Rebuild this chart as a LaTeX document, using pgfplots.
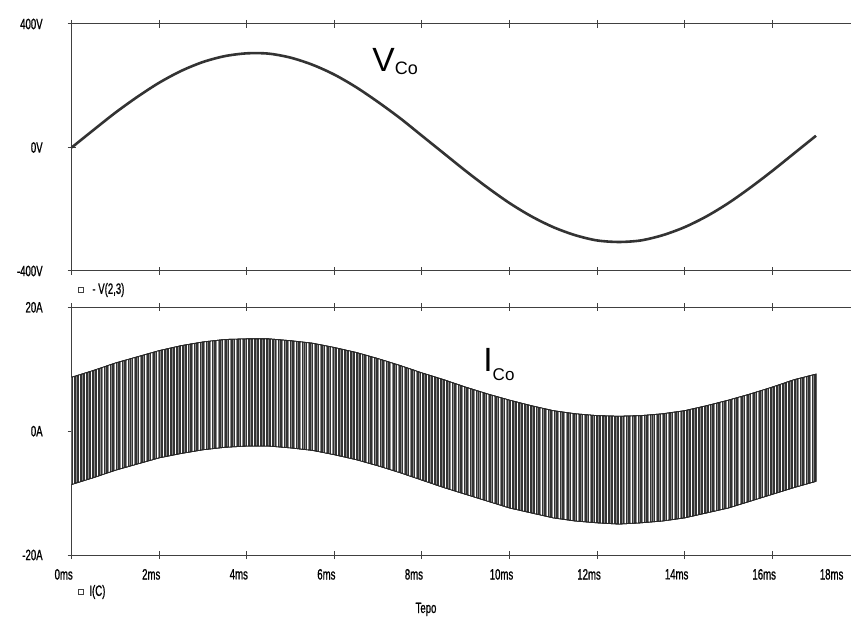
\documentclass[border=0pt]{standalone}
\usepackage{fontspec}
\setmainfont{Liberation Sans}
\newfontfamily\narrowsf[FakeStretch=0.64, FakeBold=0.9]{Liberation Sans}
\usepackage{pgfplots}
\pgfplotsset{compat=1.18}
\usepackage{pgfplotstable}
\usetikzlibrary{patterns, patterns.meta}

\tikzdeclarepattern{
    name=finevlines,
    type=uncolored,
    bounding box={(0pt,-0.5pt) and (1.45pt,1.5pt)},
    tile size={(1.45pt,1pt)},
    code={\draw[line width=0.45pt] (0.7pt,-0.5pt) -- (0.7pt,1.5pt);}
}

% capacitor voltage, V (time in ms)
\pgfplotstableread{
t    v
0    0
0.5  57
1.0  113
1.5  164
2.0  210
2.5  248
3.0  277
3.5  296
4.0  305
4.5  304
5.0  291
5.5  268
6.0  236
6.5  195
7.0  147
7.5  95
8.0  38
8.5  -19
9.0  -76
9.5  -130
10.0 -180
10.5 -223
11.0 -258
11.5 -284
12.0 -301
12.5 -306
13.0 -301
13.5 -284
14.0 -258
14.5 -223
15.0 -180
15.5 -130
16.0 -76
16.5 -19
17.0 38
}\vco

% capacitor current ripple band, A: upper envelope forward, lower envelope back
\pgfplotstableread{
t    i
0    8.7
0.5  9.8
1.0  11.0
1.5  12.0
2.0  13.0
2.5  13.8
3.0  14.4
3.5  14.8
4.0  14.9
4.5  14.9
5.0  14.6
5.5  14.2
6.0  13.5
6.5  12.7
7.0  11.7
7.5  10.6
8.0  9.4
8.5  8.3
9.0  7.1
9.5  6.0
10.0 5.0
10.5 4.1
11.0 3.3
11.5 2.8
12.0 2.5
12.5 2.4
13.0 2.5
13.5 2.8
14.0 3.3
14.5 4.1
15.0 5.0
15.5 6.0
16.0 7.1
16.5 8.3
17.0 9.2
17.0 -8.1
16.5 -9.1
16.0 -10.2
15.5 -11.3
15.0 -12.4
14.5 -13.2
14.0 -14.0
13.5 -14.5
13.0 -14.8
12.5 -15.0
12.0 -14.8
11.5 -14.5
11.0 -14.0
10.5 -13.2
10.0 -12.4
9.5  -11.3
9.0  -10.2
8.5  -9.1
8.0  -7.9
7.5  -6.7
7.0  -5.6
6.5  -4.6
6.0  -3.8
5.5  -3.1
5.0  -2.7
4.5  -2.4
4.0  -2.4
3.5  -2.6
3.0  -3.0
2.5  -3.6
2.0  -4.3
1.5  -5.3
1.0  -6.3
0.5  -7.5
0    -8.6
}\ico

\pgfplotsset{
    pspice/.style={
        scale only axis,
        width=389.65pt, height=123.5pt,
        xmin=0, xmax=17.8,
        axis x line=box, axis y line=left,
        axis line style={black!75, line width=0.5pt, -},
        xtick={0,2,...,16},
        tick align=center, major tick length=4pt,
        tick style={black!75, line width=0.5pt},
        ticklabel style={font=\narrowsf\fontsize{7.5}{9}\selectfont, black},
        yticklabel style={anchor=east, xshift=-9pt},
        xticklabel style={xshift=-4pt, yshift=-1.5pt},
        clip=false,
    },
}

\begin{document}
\begin{tikzpicture}
\useasboundingbox (0,0) rectangle (425.5pt,308pt);

% ---- top: capacitor voltage
\begin{axis}[
    pspice,
    at={(35.85pt,172.5pt)}, anchor=south west,
    ymin=-400, ymax=400,
    ytick={-400,0,400},
    yticklabels={-400V,0V,400V},
    xticklabels={},
]
\addplot[black!80, line width=1.3pt, smooth] table[x=t, y=v] {\vco};
\end{axis}

% ---- bottom: capacitor current
\begin{axis}[
    pspice,
    at={(35.85pt,30.5pt)}, anchor=south west,
    height=123.85pt,
    ymin=-20, ymax=20,
    ytick={-20,0,20},
    yticklabels={-20A,0A,20A},
    xticklabels={0ms,2ms,4ms,6ms,8ms,10ms,12ms,14ms,16ms},
    extra x ticks={17.54},
    extra x tick labels={18ms},
    extra x tick style={tick style={draw=none}},
]
\addplot[fill=black!80, draw=black!85, line width=0.4pt,
         postaction={pattern=finevlines, pattern color=black!45},
         postaction={pattern=vertical lines, pattern color=white}]
    table[x=t, y=i] {\ico};
\end{axis}

% trace names
\node[anchor=base west, inner sep=0pt] at (186pt,272pt)
    {\fontsize{16.8}{18}\selectfont V\raisebox{-1.5pt}{\fontsize{9}{10}\selectfont Co}};
\node[anchor=base west, inner sep=0pt] at (241.5pt,122pt)
    {\fontsize{16.8}{18}\selectfont I\raisebox{-4.5pt}{\fontsize{8.5}{10}\selectfont Co}};

% probe legends and axis title
\draw[black!75, line width=0.4pt] (39pt,161.8pt) rectangle (41.6pt,164.4pt);
\node[anchor=west, inner sep=0pt, font=\narrowsf\fontsize{7.5}{9}\selectfont] at (46pt,163pt) {- V(2,3)};
\draw[black!75, line width=0.4pt] (39pt,10.7pt) rectangle (41.6pt,13.3pt);
\node[anchor=west, inner sep=0pt, font=\narrowsf\fontsize{7.5}{9}\selectfont] at (44.5pt,12pt) {I(C)};
\node[anchor=base, inner sep=0pt, font=\narrowsf\fontsize{7.5}{9}\selectfont] at (213pt,1.5pt) {Tepo};
\end{tikzpicture}
\end{document}
